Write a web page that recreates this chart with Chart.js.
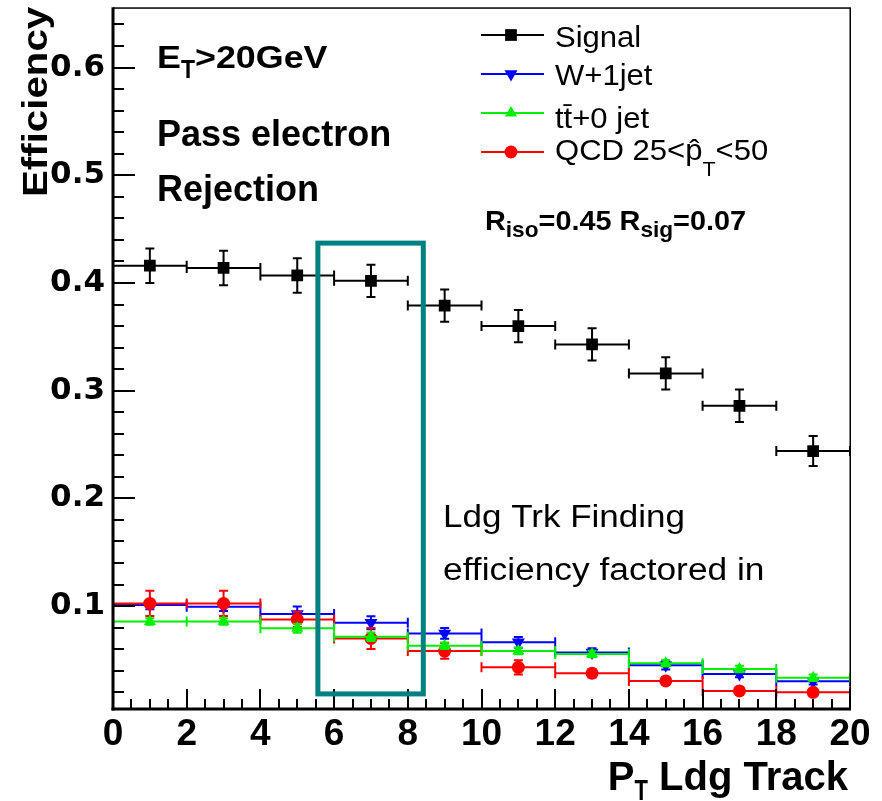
<!DOCTYPE html>
<html>
<head>
<meta charset="utf-8">
<script src="https://cdn.jsdelivr.net/npm/chart.js@4.4.0/dist/chart.umd.min.js"></script>
<style>
  html, body { margin: 0; padding: 0; background: #fff; }
  canvas { display: block; }
</style>
</head>
<body>
<canvas id="eff" width="882" height="801"></canvas>
<script>
// bins of leading-track pT (centres and half widths)
const binCenters = [1, 3, 5, 7, 9, 11, 13, 15, 17, 19];
const binHalfWidth = [1, 1, 1, 1, 1, 1, 1, 1, 1, 1];

const signalEff = [0.416, 0.414, 0.407, 0.402, 0.379, 0.360, 0.343, 0.316, 0.286, 0.244];
const signalErr = [0.016, 0.016, 0.016, 0.015, 0.015, 0.015, 0.015, 0.015, 0.015, 0.014];

const wjetEff = [0.101, 0.0994, 0.0926, 0.0846, 0.0747, 0.0664, 0.057, 0.0451, 0.037, 0.0303];
const wjetErr = [0.004, 0.004, 0.007, 0.006, 0.005, 0.005, 0.004, 0.004, 0.003, 0.003];

const ttbarEff = [0.0858, 0.0858, 0.0794, 0.0716, 0.0633, 0.0583, 0.0556, 0.047, 0.0417, 0.0336];
const ttbarErr = [0.003, 0.003, 0.004, 0.004, 0.003, 0.003, 0.003, 0.003, 0.003, 0.003];

const qcdEff = [0.1025, 0.1025, 0.0877, 0.070, 0.0583, 0.0432, 0.0377, 0.0306, 0.0213, 0.020];
const qcdErr = [0.0117, 0.0117, 0.007, 0.0097, 0.0072, 0.0066, 0.004, 0.003, 0.002, 0.002];

const xTickValues = [0, 2, 4, 6, 8, 10, 12, 14, 16, 18, 20];
const yTickValues = [0.1, 0.2, 0.3, 0.4, 0.5, 0.6];

// highlighted region, in axis units
const boxX = [5.56, 8.42];
const boxY = [0.0185, 0.437];

const FONT = '"Liberation Sans", Arial, sans-serif';

const series = [
  { label: 'Signal', vals: signalEff, errs: signalErr, color: '#000000', style: 'rect', rot: 0, r: 8.3, order: 3 },
  { label: 'W+1jet', vals: wjetEff, errs: wjetErr, color: '#0000ff', style: 'triangle', rot: 180, r: 7.5, order: 2 },
  { label: 'tt+0 jet', vals: ttbarEff, errs: ttbarErr, color: '#00f000', style: 'triangle', rot: 0, r: 7, order: 0 },
  { label: 'QCD', vals: qcdEff, errs: qcdErr, color: '#ff0000', style: 'circle', rot: 0, r: 6.5, order: 1 },
];

function drawRuns(ctx, x, y, runs, align) {
  // runs: [text, size, weight, dy, sx, sy]
  ctx.save();
  ctx.textAlign = 'left';
  ctx.textBaseline = 'alphabetic';
  const widths = runs.map(r => {
    ctx.font = `${r[2]} ${r[1]}px ${FONT}`;
    return ctx.measureText(r[0]).width * (r[4] || 1);
  });
  let cx = align === 'right' ? x - widths.reduce((a, b) => a + b, 0) : x;
  runs.forEach((r, i) => {
    ctx.save();
    ctx.font = `${r[2]} ${r[1]}px ${FONT}`;
    ctx.translate(cx, y + (r[3] || 0));
    ctx.scale(r[4] || 1, r[5] || 1);
    ctx.fillText(r[0], 0, 0);
    ctx.restore();
    cx += widths[i];
  });
  ctx.restore();
}

function drawMarker(ctx, s, x, y) {
  ctx.save();
  ctx.fillStyle = s.color;
  ctx.beginPath();
  if (s.style === 'rect') {
    const h = s.r * Math.SQRT1_2;
    ctx.rect(x - h, y - h, 2 * h, 2 * h);
  } else if (s.style === 'circle') {
    ctx.arc(x, y, s.r, 0, Math.PI * 2);
  } else {
    let a = s.rot * Math.PI / 180;
    for (let k = 0; k < 3; k++) {
      const px = x + Math.sin(a) * s.r, py = y - Math.cos(a) * s.r;
      if (k) ctx.lineTo(px, py); else ctx.moveTo(px, py);
      a += 2 * Math.PI / 3;
    }
    ctx.closePath();
  }
  ctx.fill();
  ctx.restore();
}

function drawFrame(chart) {
  const ctx = chart.ctx;
  const area = chart.chartArea;
  const sx = chart.scales.x, sy = chart.scales.y;
  ctx.save();
  ctx.fillStyle = '#000000';
  // ticks point into the plot, ROOT style
  for (let k = 0; k <= 40; k++) {
    const px = Math.round(sx.getPixelForValue(k * 0.5));
    const len = k % 4 === 0 ? 20 : 10;
    ctx.fillRect(px - 1, area.bottom - len, 2, len);
  }
  for (let k = 1; k <= 32; k++) {
    const py = Math.round(sy.getPixelForValue(k * 0.02));
    const len = k % 5 === 0 ? 22 : 11;
    ctx.fillRect(area.left, py - 1, len, 2);
  }
  // frame: thin top/right, heavy axes left/bottom
  ctx.fillRect(area.left, area.top - 1, area.right - area.left, 1.5);
  ctx.fillRect(area.right - 0.5, area.top - 1, 1.5, area.bottom - area.top + 1);
  ctx.fillRect(area.left - 1.5, area.top - 1, 3, area.bottom - area.top + 2.5);
  ctx.fillRect(area.left - 1.5, area.bottom - 1.5, area.right - area.left + 2.5, 3);
  ctx.restore();
}

const rootPlugin = {
  id: 'rootStyle',
  beforeDatasetDraw(chart, args) {
    const s = series[args.index];
    const { ctx, scales: { x, y } } = chart;
    ctx.save();
    ctx.strokeStyle = s.color;
    ctx.lineWidth = 2;
    ctx.beginPath();
    binCenters.forEach((c, k) => {
      const x0 = x.getPixelForValue(c - binHalfWidth[k]);
      const x1 = x.getPixelForValue(c + binHalfWidth[k]);
      const xc = x.getPixelForValue(c);
      const yc = y.getPixelForValue(s.vals[k]);
      const yt = y.getPixelForValue(s.vals[k] + s.errs[k]);
      const yb = y.getPixelForValue(s.vals[k] - s.errs[k]);
      ctx.moveTo(x0, yc); ctx.lineTo(x1, yc);
      ctx.moveTo(x0, yc - 5); ctx.lineTo(x0, yc + 5);
      ctx.moveTo(x1, yc - 5); ctx.lineTo(x1, yc + 5);
      ctx.moveTo(xc, yt); ctx.lineTo(xc, yb);
      ctx.moveTo(xc - 4.5, yt); ctx.lineTo(xc + 4.5, yt);
      ctx.moveTo(xc - 4.5, yb); ctx.lineTo(xc + 4.5, yb);
    });
    ctx.stroke();
    ctx.restore();
  },
  afterDraw(chart) {
    const { ctx, scales: { x, y } } = chart;
    drawFrame(chart);
    ctx.save();
    ctx.fillStyle = '#000';

    // highlight box
    ctx.strokeStyle = '#008080';
    ctx.lineWidth = 5;
    const bx0 = x.getPixelForValue(boxX[0]), bx1 = x.getPixelForValue(boxX[1]);
    const by0 = y.getPixelForValue(boxY[1]), by1 = y.getPixelForValue(boxY[0]);
    ctx.strokeRect(bx0, by0, bx1 - bx0, by1 - by0);

    // axis titles
    ctx.save();
    ctx.translate(47, 197);
    ctx.rotate(-Math.PI / 2);
    drawRuns(ctx, 0, 0, [['Efficiency', 35, 'bold', 0, 1.15]]);
    ctx.restore();
    drawRuns(ctx, 848, 790, [['P', 40, 'bold'], ['T', 22, 'bold', 10, 1, 1.3], [' Ldg Track', 40, 'bold']], 'right');

    // cut labels
    drawRuns(ctx, 157, 68, [['E', 32, 'bold', 0, 1.12], ['T', 23, 'bold', 10, 1, 1.1], ['>20GeV', 32, 'bold', 0, 1.12]]);
    drawRuns(ctx, 157, 146, [['Pass electron', 36, 'bold']]);
    drawRuns(ctx, 157, 201, [['Rejection', 36, 'bold']]);
    drawRuns(ctx, 485, 230, [['R', 28, 'bold', 0, 1.03], ['iso', 22, 'bold', 7, 1.03], ['=0.45 R', 28, 'bold', 0, 1.03],
      ['sig', 22, 'bold', 7, 1.03], ['=0.07', 28, 'bold', 0, 1.03]]);
    drawRuns(ctx, 443, 527, [['Ldg Trk Finding', 31, 'normal', 0, 1.13]]);
    drawRuns(ctx, 443, 580, [['efficiency factored in', 31, 'normal', 0, 1.14]]);

    // legend
    const legY = [35, 74, 113, 152];
    series.forEach((s, i) => {
      ctx.strokeStyle = s.color;
      ctx.lineWidth = 2;
      ctx.beginPath();
      ctx.moveTo(481, legY[i]);
      ctx.lineTo(544, legY[i]);
      ctx.stroke();
      drawMarker(ctx, s, 511, legY[i]);
    });
    drawRuns(ctx, 555, 47, [['Signal', 29, 'normal', 0, 1.07]]);
    drawRuns(ctx, 555, 85, [['W+1jet', 29, 'normal', 0, 1.07]]);
    drawRuns(ctx, 555, 128, [['t\u0074\u0304+0 jet', 29, 'normal', 0, 1.07]]);
    drawRuns(ctx, 555, 160, [['QCD 25<p\u0302', 29, 'normal', 0, 1.07], ['T', 20, 'normal', 16, 1.07], ['<50', 29, 'normal', 0, 1.07]]);
    ctx.restore();
  }
};

new Chart(document.getElementById('eff'), {
  type: 'scatter',
  data: {
    datasets: series.map(s => ({
      label: s.label,
      data: binCenters.map((c, k) => ({ x: c, y: s.vals[k] })),
      showLine: false,
      order: s.order,
      pointStyle: s.style,
      pointRotation: s.rot,
      pointRadius: s.r,
      pointHoverRadius: s.r,
      pointBorderWidth: 0,
      backgroundColor: s.color,
      borderColor: s.color,
    })),
  },
  options: {
    responsive: false,
    devicePixelRatio: 1,
    animation: false,
    events: [],
    layout: { padding: { top: 7, right: 32, left: 0, bottom: 0 } },
    plugins: { legend: { display: false }, tooltip: { enabled: false } },
    scales: {
      x: {
        type: 'linear',
        min: 0,
        max: 20,
        afterBuildTicks: s => { s.ticks = xTickValues.map(v => ({ value: v })); },
        afterFit: s => { s.height = 92; s.paddingLeft = 0; s.paddingRight = 0; },
        grid: { display: false, drawTicks: false },
        border: { display: false },
        ticks: { color: '#000', padding: 4, maxRotation: 0, autoSkip: false,
                 font: { family: FONT, size: 37, weight: 'bold' } },
      },
      y: {
        type: 'linear',
        min: 0.0045,
        max: 0.655,
        afterBuildTicks: s => { s.ticks = yTickValues.map(v => ({ value: v })); },
        afterFit: s => { s.width = 113; s.paddingTop = 0; s.paddingBottom = 0; },
        grid: { display: false, drawTicks: false },
        border: { display: false },
        ticks: { color: '#000', padding: 8, autoSkip: false,
                 callback: v => v.toFixed(1),
                 font: { family: '"DejaVu Sans", sans-serif', size: 31, weight: 'bold' } },
      },
    },
  },
  plugins: [rootPlugin],
});
</script>
</body>
</html>
